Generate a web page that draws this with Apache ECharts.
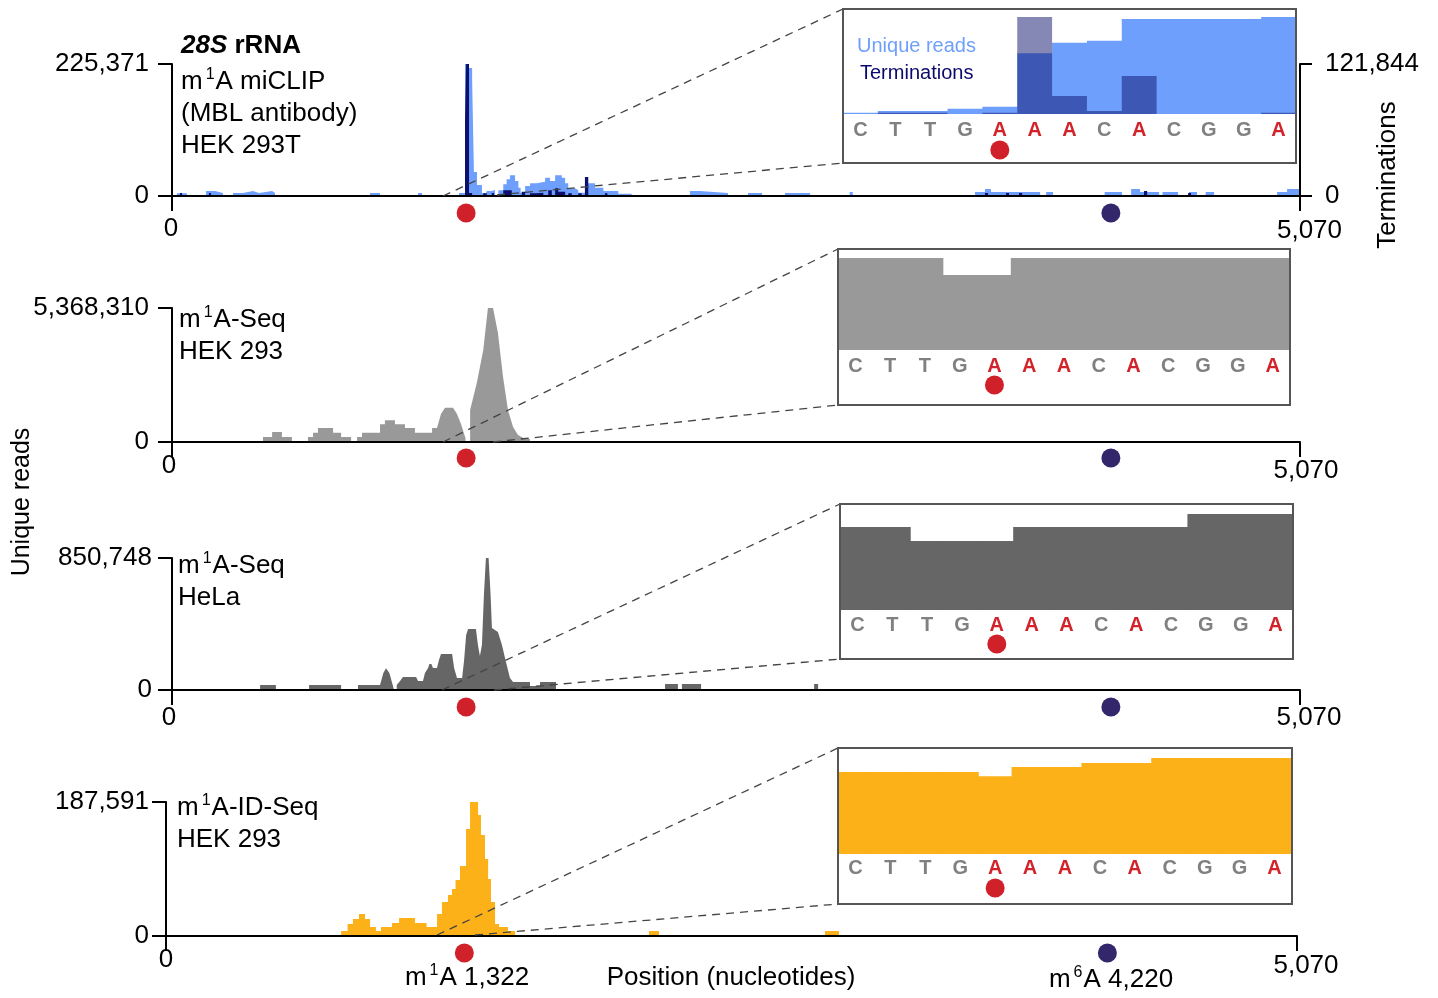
<!DOCTYPE html>
<html><head><meta charset="utf-8">
<script src="https://cdn.jsdelivr.net/npm/echarts@6/dist/echarts.min.js"></script>
<style>html,body{margin:0;padding:0;background:#fff}#c{width:1438px;height:998px}</style>
</head><body><div id="c"></div>
<script>
// ---------------- DATA ----------------
const X_MAX = 5070;
const Y_MAX = [225371, 5368310, 850748, 187591];
const TERM_MAX = 121844;
const SITE_M1A = 1322;
const SITE_M6A = 4220;

// Panel 1 : m1A miCLIP, unique reads (step histogram, [binStart, reads])
const P1_READS = [
 [22,4500],[67,0],[153,8500],[193,5100],[229,0],[274,5100],[319,8500],[364,5100],[391,8500],[450,5100],[463,0],
 [890,5100],[935,0],[1106,5100],[1124,0],[1290,5100],
 [1317,225371],[1335,218500],[1349,198000],[1357,41000],[1371,18800],[1393,5100],[1407,0],
 [1415,8500],[1437,10200],[1452,0],[1467,9700],[1489,20000],[1504,28500],[1519,35300],[1542,25600],[1557,14200],[1567,5600],
 [1587,17100],[1609,21700],[1639,24400],[1677,31200],[1699,25600],[1722,35300],[1752,31200],[1767,21700],[1781,13100],
 [1811,9700],[1826,5600],[1856,21700],[1901,14200],[1939,8500],[2006,3900],[2066,0],
 [2328,8500],[2373,5100],[2499,0],[2589,5100],[2652,0],[2755,5100],[2868,0],[3046,6800],[3060,0],
 [3609,6800],[3654,12000],[3681,6800],[3902,0],[3929,6800],[3960,0],[4192,6800],[4270,0],[4311,12000],[4351,6800],[4437,0],
 [4452,6800],[4522,0],[4571,6800],[4607,0],[4646,6800],[4684,0],[4967,6800],[5012,12000],[5070,0]
];
// Panel 1 : terminations ([binStart, terminations])
const P1_TERMS = [
 [36,2800],[45,0],[166,2800],[175,0],[1317,68400],[1322,121844],[1335,2800],[1349,0],[1399,2500],[1415,0],[1437,2800],[1447,0],
 [1489,5300],[1527,0],[1572,4000],[1587,0],[1609,2500],[1639,3100],[1669,0],[1691,5300],[1707,0],[1722,7200],[1736,4000],[1767,0],
 [1781,2500],[1797,0],[1826,2500],[1841,0],[1856,17500],[1871,0],[1946,2500],[1957,0],[3654,2800],[3668,0],[3749,2800],[3762,0],
 [3807,2800],[3821,0],[4369,4700],[4383,0],[4567,2800],[4580,0]
];
// Panel 2 : m1A-Seq HEK 293 ([position, reads] outline points)
const P2_READS = [
 [409,0],[409,200000],[450,200000],[450,400000],[494,400000],[494,200000],[539,200000],[539,0],
 [611,0],[611,200000],[634,200000],[634,375000],[656,375000],[656,560000],[724,560000],[724,375000],[760,375000],[760,200000],[805,200000],[805,0],
 [832,0],[832,200000],[854,200000],[854,375000],[935,375000],[935,710000],[957,710000],[957,870000],[1002,870000],[1002,710000],
 [1047,710000],[1047,560000],[1092,560000],[1092,375000],[1169,375000],[1169,560000],[1191,560000],[1209,1120000],[1227,1370000],
 [1263,1370000],[1281,1120000],[1299,720000],[1313,320000],[1319,160000],[1319,0],
 [1340,0],[1340,1280000],[1370,2360000],[1399,3690000],[1420,5368310],[1443,5368310],[1465,4370000],[1488,2600000],[1510,1280000],
 [1533,600000],[1555,280000],[1587,120000],[1609,120000],[1609,0]
];
// Panel 3 : m1A-Seq HeLa
const P3_READS = [
 [396,0],[396,32000],[467,32000],[467,0],
 [616,0],[616,32000],[760,32000],[760,0],
 [836,0],[836,32000],[935,32000],[950,110000],[962,140000],[977,110000],[992,32000],[998,0],
 [1010,0],[1010,32000],[1025,58000],[1038,84000],[1097,84000],[1106,58000],[1128,58000],[1137,110000],[1151,142000],[1157,168000],
 [1166,168000],[1173,142000],[1191,142000],[1200,193000],[1209,232000],[1259,232000],[1268,142000],[1281,77000],[1304,77000],
 [1313,193000],[1322,354000],[1331,393000],[1366,393000],[1375,290000],[1384,219000],[1393,290000],[1402,612000],[1411,850748],
 [1423,850748],[1432,612000],[1438,400000],[1465,374000],[1483,290000],[1501,180000],[1519,77000],[1533,52000],[1609,52000],
 [1609,26000],[1654,26000],[1654,52000],[1726,52000],[1726,0],
 [2216,0],[2216,39000],[2274,39000],[2274,0],[2292,0],[2292,39000],[2378,39000],[2378,0],[2886,0],[2886,39000],[2904,39000],[2904,0]
];
// Panel 4 : m1A-ID-Seq HEK 293 (step histogram)
const P4_READS = [
 [785,7000],[814,16800],[838,23800],[865,30800],[892,23800],[915,12600],[941,7000],[964,12600],[1013,18200],[1045,25200],
 [1116,18200],[1168,12600],[1215,30800],[1237,47600],[1264,57400],[1282,65800],[1298,78400],[1318,98000],[1345,149800],
 [1363,187591],[1399,169400],[1412,141400],[1430,107800],[1444,79800],[1457,47600],[1475,16800],[1493,12600],[1533,7000],
 [1565,0],[2165,7000],[2210,0],[2954,7000],[3017,0]
];
// Zoom insets (relative height, % of inset)
const INSET_LETTERS = ['C','T','T','G','A','A','A','C','A','C','G','G','A'];
const INSET_SITE_INDEX = 4;
const INSET1_READS = [1.4,3.1,3.1,5.5,7.6,62.6,73.5,75.6,97.9,97.9,97.9,97.9,100];
const INSET1_TERMS = [0,1.4,1.4,0,1.4,100,18.5,3.1,39.1,0,0,0,1.4];
const INSET2_READS = [100,100,100,81.5,81.5,100,100,100,100,100,100,100,100];
const INSET3_READS = [86.5,86.5,71.9,71.9,71.9,86.5,86.5,86.5,86.5,86.5,100,100,100];
const INSET4_READS = [85.5,85.5,85.5,85.5,81,90.7,90.7,94.8,94.8,100,100,100,100];

// ---------------- LAYOUT / STYLE ----------------
const F = "'Liberation Sans', Arial, Helvetica, sans-serif";
const C_BLUE = '#6f9ffd', C_NAVY = '#0c0f6b', C_NAVY_T = 'rgba(12,15,107,0.5)';
const C_G2 = '#999999', C_G3 = '#666666', C_OR = '#fbb117';
const C_RED = '#d0202a', C_PUR = '#33266b';
const MAIN = [
 {left:172, top:64,  width:1128, height:132, m:20, zr:2, mt:2, ml:19},
 {left:172, top:308, width:1128, height:134, m:11, zr:6, mt:5, ml:12},
 {left:172, top:558, width:1128, height:132, m:15, zr:6, mt:0, ml:18},
 {left:166, top:802, width:1131, height:134, m:11, zr:0, mt:6, ml:18}
];
const YM = [23, 23, 20, 17];
const DOT_ROW = [
 {left:172, width:1128, y:213},
 {left:172, width:1128, y:458},
 {left:172, width:1128, y:707},
 {left:171, width:1125, y:953}
];
const INS = [
 {left:843, box:9,   w:453, bh:154, top:17,  base:114, dot:150, lm:6},
 {left:838, box:249, w:452, bh:156, top:258, base:350, dot:385, lm:6},
 {left:840, box:504, w:453, bh:155, top:514, base:610, dot:644, lm:5},
 {left:838, box:748, w:454, bh:156, top:758, base:854, dot:888, lm:4}
];
const fmt = v => Math.round(v).toLocaleString('en-US');

const grid = [], xAxis = [], yAxis = [], series = [];
function addGrid(g){ grid.push(Object.assign({containLabel:false, outerBoundsMode:'none', show:false}, g)); return grid.length-1; }

// main panels
MAIN.forEach((g,i)=>{
  const gi = addGrid({left:g.left, top:g.top, width:g.width, height:g.height});
  xAxis.push({gridIndex:gi, type:'value', min:0, max:X_MAX, interval:X_MAX, z:6,
    axisLine:{show:true, onZero:false, lineStyle:{color:'#000', width:2}},
    axisTick:{show:true, length:15, lineStyle:{color:'#000', width:2}},
    splitLine:{show:false},
    axisLabel:{show:true, showMinLabel:true, showMaxLabel:true, margin:g.m, fontSize:26, fontFamily:F, color:'#000',
      formatter: v => v===0 ? '{z|0}' : '{m|'+fmt(v)+'}',
      rich:{z:{fontSize:26, fontFamily:F, color:'#000', padding:[0,g.zr,0,0]},
            m:{fontSize:26, fontFamily:F, color:'#000', padding:[g.mt,0,0,g.ml]}}}
  });
  yAxis.push({gridIndex:gi, type:'value', min:0, max:Y_MAX[i], interval:Y_MAX[i], z:6,
    axisLine:{show:true, onZero:false, lineStyle:{color:'#000', width:2}},
    axisTick:{show:true, length:14, lineStyle:{color:'#000', width:2}},
    splitLine:{show:false},
    axisLabel:{show:true, showMinLabel:true, showMaxLabel:true, margin:YM[i], fontSize:26, fontFamily:F, color:'#000', formatter:fmt}
  });
});
// right axis panel 1 (terminations)
yAxis.push({gridIndex:0, type:'value', position:'right', min:0, max:TERM_MAX, interval:TERM_MAX, z:6,
  axisLine:{show:true, onZero:false, lineStyle:{color:'#000', width:2}},
  axisTick:{show:true, length:12, lineStyle:{color:'#000', width:2}},
  splitLine:{show:false},
  axisLabel:{show:true, showMinLabel:true, showMaxLabel:true, margin:25, fontSize:26, fontFamily:F, color:'#000', formatter:fmt}
});
const TERM_Y = yAxis.length-1;

const areaLine = (xi, yi, data, color, step) => ({
  type:'line', xAxisIndex:xi, yAxisIndex:yi, data, step: step ? 'end' : false, showSymbol:false, symbol:'none',
  silent:true, color, lineStyle:{width:0, color}, areaStyle:{color, opacity:1}, z:2, sampling:null
});
series.push(areaLine(0,0,P1_READS,C_BLUE,true));
series.push(areaLine(0,TERM_Y,P1_TERMS,C_NAVY,true));
series.push(areaLine(1,1,P2_READS,C_G2,false));
series.push(areaLine(2,2,P3_READS,C_G3,false));
series.push(areaLine(3,3,P4_READS,C_OR,true));

// site dots under each panel
DOT_ROW.forEach(d=>{
  const gi = addGrid({left:d.left, top:d.y-10, width:d.width, height:20});
  xAxis.push({gridIndex:gi, type:'value', min:0, max:X_MAX, show:false});
  yAxis.push({gridIndex:gi, type:'value', min:0, max:1, show:false});
  const xi = xAxis.length-1, yi = yAxis.length-1;
  series.push({type:'scatter', xAxisIndex:xi, yAxisIndex:yi, symbolSize:19, silent:true,
    data:[{value:[SITE_M1A,0.5], itemStyle:{color:C_RED, opacity:1}}, {value:[SITE_M6A,0.5], itemStyle:{color:C_PUR, opacity:1}}]});
});

// insets
const INSET_SETS = [[INSET1_READS, INSET1_TERMS],[INSET2_READS],[INSET3_READS],[INSET4_READS]];
const INSET_COLORS = [[C_BLUE, C_NAVY_T],[C_G2],[C_G3],[C_OR]];
INS.forEach((b,i)=>{
  const gi = addGrid({left:b.left, top:b.top, width:b.w, height:b.base-b.top});
  xAxis.push({gridIndex:gi, type:'category', data:INSET_LETTERS, boundaryGap:true,
    axisLine:{show:false}, axisTick:{show:false}, splitLine:{show:false}, splitArea:{show:false},
    axisLabel:{show:true, interval:0, margin:b.lm,
      formatter: v => v==='A' ? '{a|A}' : '{o|'+v+'}',
      rich:{a:{color:'#d2232a', fontWeight:'bold', fontSize:20, fontFamily:F},
            o:{color:'#808080', fontWeight:'bold', fontSize:20, fontFamily:F}}}});
  yAxis.push({gridIndex:gi, type:'value', min:0, max:100, show:false});
  const xi = xAxis.length-1, yi = yAxis.length-1;
  INSET_SETS[i].forEach((arr,k)=>{
    const col = INSET_COLORS[i][k];
    const opaque = col.indexOf('rgba') !== 0;
    series.push({type:'bar', xAxisIndex:xi, yAxisIndex:yi, data:arr, barWidth: opaque ? '106%' : '100%', barGap:'-100%', barCategoryGap:'0%',
      silent:true, clip:true, itemStyle:{color:col}, z:3+k});
  });
  const gd = addGrid({left:b.left, top:b.dot-10, width:b.w, height:20});
  xAxis.push({gridIndex:gd, type:'category', data:INSET_LETTERS, show:false});
  yAxis.push({gridIndex:gd, type:'value', min:0, max:1, show:false});
  series.push({type:'scatter', xAxisIndex:xAxis.length-1, yAxisIndex:yAxis.length-1, symbolSize:19, silent:true,
    itemStyle:{color:C_RED, opacity:1}, data:[[INSET_SITE_INDEX,0.5]]});
});

// ---------------- GRAPHICS (boxes, zoom lines, texts) ----------------
const RICH = {
  n:{fontSize:26, fontFamily:F, fill:'#000', lineHeight:30},
  s:{fontSize:16, fontFamily:F, fill:'#000', lineHeight:12, verticalAlign:'top', padding:[0,1,0,3]},
  b:{fontSize:26, fontFamily:F, fill:'#000', fontWeight:'bold', lineHeight:30},
  bi:{fontSize:26, fontFamily:F, fill:'#000', fontWeight:'bold', fontStyle:'italic', lineHeight:30}
};
const txt = (x,y,text,align) => ({type:'text', x, y, z:60, silent:true,
  style:{text, rich:RICH, align:align||'left', verticalAlign:'middle', fontSize:26, fontFamily:F, fill:'#000'}});
const graphic = [];
INS.forEach(b=>{
  graphic.push({type:'rect', z:50, silent:true, shape:{x:b.left, y:b.box, width:b.w, height:b.bh},
    style:{fill:'none', stroke:'#555', lineWidth:2}});
});
const ZL = [
  [443,196,843,9],[497,195,843,163],
  [443,442,838,249],[493,442,838,405],
  [442,690,840,504],[494,690,840,659],
  [437,935,838,748],[475,935,838,904]
];
ZL.forEach(l=>graphic.push({type:'line', z:40, silent:true, shape:{x1:l[0],y1:l[1],x2:l[2],y2:l[3]},
  style:{stroke:'#444', lineWidth:1.3, lineDash:[8,6]}}));
graphic.push(
  txt(181,46,'{bi|28S}{b| rRNA}'),
  txt(181,82,'{n|m}{s|1}{n|A miCLIP}'),
  txt(181,114,'{n|(MBL antibody)}'),
  txt(181,146,'{n|HEK 293T}'),
  txt(179,320,'{n|m}{s|1}{n|A-Seq}'),
  txt(179,352,'{n|HEK 293}'),
  txt(178,566,'{n|m}{s|1}{n|A-Seq}'),
  txt(178,598,'{n|HeLa}'),
  txt(177,808,'{n|m}{s|1}{n|A-ID-Seq}'),
  txt(177,840,'{n|HEK 293}'),
  txt(467,978,'{n|m}{s|1}{n|A 1,322}','center'),
  txt(731,978,'{n|Position (nucleotides)}','center'),
  txt(1111,980,'{n|m}{s|6}{n|A 4,220}','center'),
  {type:'text', x:857, y:46, z:60, silent:true, style:{text:'Unique reads', fontSize:20, fontFamily:F, fill:C_BLUE, align:'left', verticalAlign:'middle'}},
  {type:'text', x:860, y:73, z:60, silent:true, style:{text:'Terminations', fontSize:20, fontFamily:F, fill:'#0a0a6e', align:'left', verticalAlign:'middle'}},
  {type:'text', x:22, y:502, rotation:Math.PI/2, z:60, silent:true, style:{text:'Unique reads', fontSize:25, fontFamily:F, fill:'#000', align:'center', verticalAlign:'middle'}},
  {type:'text', x:1388, y:175, rotation:Math.PI/2, z:60, silent:true, style:{text:'Terminations', fontSize:26, fontFamily:F, fill:'#000', align:'center', verticalAlign:'middle'}}
);

const chart = echarts.init(document.getElementById('c'), null, {renderer:'canvas'});
chart.setOption({animation:false, backgroundColor:'#fff', grid, xAxis, yAxis, series, graphic});
</script></body></html>
